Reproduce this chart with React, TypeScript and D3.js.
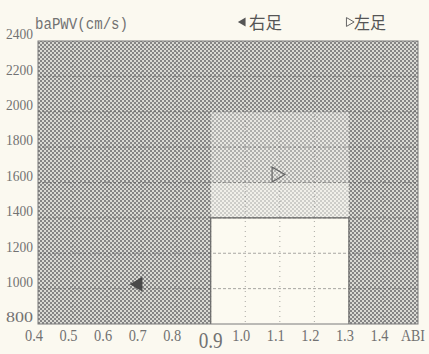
import React from "react";
import * as d3 from "d3";

const xTicks = [0.4, 0.5, 0.6, 0.7, 0.8, 0.9, 1.0, 1.1, 1.2, 1.3, 1.4];
const yTicks = [800, 1000, 1200, 1400, 1600, 1800, 2000, 2200, 2400];
const seriesNames = ["右足", "左足"];
const abiValues = [0.69, 1.09];
const pwvValues = [1025, 1645];
const zoneAbi = [0.9, 1.3];
const zonePwv = [800, 1400, 1600, 2000];

const W = 429, H = 354;
const L = 38, R = 418, T = 41, B = 324;

export default function App() {
  const x = d3.scaleLinear().domain([0.4, 1.5]).range([L, R]);
  const y = d3.scaleLinear().domain([800, 2400]).range([B, T]);
  const txt = "#727272";
  const zx0 = x(zoneAbi[0]), zx1 = x(zoneAbi[1]);
  const legTri = d3.symbol().type(d3.symbolTriangle).size(34)() as string;
  const ptTri = d3.symbol().type(d3.symbolTriangle).size(95)() as string;
  return (
    <svg width={W} height={H} style={{ position: "absolute", left: 0, top: 0, background: "#fbf9f0" }}>
      <defs>
        <pattern id="dark" width={4} height={4} patternUnits="userSpaceOnUse">
          <rect width={4} height={4} fill="#dadad4" />
          <rect x={0} y={0} width={2} height={2} fill="#858585" />
          <rect x={2} y={2} width={2} height={2} fill="#858585" />
        </pattern>
        <pattern id="mid" width={4} height={4} patternUnits="userSpaceOnUse">
          <rect width={4} height={4} fill="#e8e7e2" />
          <rect x={0} y={0} width={2} height={2} fill="#aeaeac" />
          <rect x={2} y={2} width={2} height={2} fill="#aeaeac" />
        </pattern>
        <pattern id="light" width={4} height={4} patternUnits="userSpaceOnUse">
          <rect width={4} height={4} fill="#f1f0ea" />
          <rect x={0} y={0} width={2} height={2} fill="#cdcdc9" />
          <rect x={2} y={2} width={2} height={2} fill="#cdcdc9" />
        </pattern>
      </defs>
      <rect x={0} y={0} width={W} height={H} fill="#fbf9f0" />
      {/* plot background */}
      <rect x={L} y={T} width={R - L} height={B - T} fill="url(#dark)" />
      {/* zones */}
      <rect x={zx0} y={y(zonePwv[3])} width={zx1 - zx0} height={y(zonePwv[2]) - y(zonePwv[3])} fill="url(#mid)" />
      <rect x={zx0} y={y(zonePwv[2])} width={zx1 - zx0} height={y(zonePwv[1]) - y(zonePwv[2])} fill="url(#light)" />
      <rect x={zx0} y={y(zonePwv[1])} width={zx1 - zx0} height={y(zonePwv[0]) - y(zonePwv[1])} fill="#fcfaf1" />
      {/* grid */}
      {yTicks.slice(1, -1).map((v) => (
        <line key={"h" + v} x1={L} x2={R} y1={y(v)} y2={y(v)} stroke="#555" strokeWidth={1} strokeDasharray="3,2" opacity={0.5} />
      ))}
      {xTicks.slice(1).map((v) => (
        <line key={"v" + v} x1={x(v)} x2={x(v)} y1={T} y2={B} stroke="#666" strokeWidth={1} strokeDasharray="1,4" opacity={0.55} />
      ))}
      {/* zone borders */}
      <path d={`M${zx0},${B}V${y(zonePwv[1])}H${zx1}V${B}`} fill="none" stroke="#666" strokeWidth={1.2} />
      <rect x={L} y={T} width={R - L} height={B - T} fill="none" stroke="#7a7a7a" strokeWidth={1} />
      {/* y labels */}
      {yTicks.map((v) => (
        <text key={"yl" + v} x={33} y={y(v) - 7} dy="0.35em" textAnchor="end" fill={txt}
          fontFamily="Liberation Serif" fontSize={15} textLength={27} lengthAdjust="spacingAndGlyphs">{v}</text>
      ))}
      {/* x labels */}
      {xTicks.map((v) => {
        const big = v === 0.9;
        return (
          <text key={"xl" + v} x={x(v) - (big ? 0 : 4)} y={big ? 348 : 341} textAnchor="middle" fill={txt}
            fontFamily="Liberation Serif" fontSize={big ? 24 : 16} textLength={big ? 24 : 18}
            lengthAdjust="spacingAndGlyphs">{v.toFixed(1)}</text>
        );
      })}
      <text x={425} y={341} textAnchor="end" fill={txt} fontFamily="Liberation Serif" fontSize={17}
        textLength={24} lengthAdjust="spacingAndGlyphs">ABI</text>
      {/* title */}
      <text x={35} y={29} fill={txt} fontFamily="Liberation Mono" fontSize={16} textLength={93}
        lengthAdjust="spacingAndGlyphs">baPWV(cm/s)</text>
      {/* legend */}
      <path d={legTri} transform="translate(243,22) rotate(-90)" fill="#555" />
      <text x={249} y={29} fill="#555" fontFamily="Noto Sans CJK JP" fontSize={17} textLength={33}
        lengthAdjust="spacingAndGlyphs">{seriesNames[0]}</text>
      <path d={legTri} transform="translate(349,22) rotate(90)" fill="none" stroke="#666" strokeWidth={1} />
      <text x={354} y={29} fill="#555" fontFamily="Noto Sans CJK JP" fontSize={17} textLength={32}
        lengthAdjust="spacingAndGlyphs">{seriesNames[1]}</text>
      {/* points */}
      <path d={ptTri}
        transform={`translate(${x(abiValues[0])},${y(pwvValues[0])}) rotate(-90)`} fill="#4a4a4a" />
      <path d={ptTri}
        transform={`translate(${x(abiValues[1])},${y(pwvValues[1])}) rotate(90)`} fill="none" stroke="#666" strokeWidth={1.2} />
    </svg>
  );
}
